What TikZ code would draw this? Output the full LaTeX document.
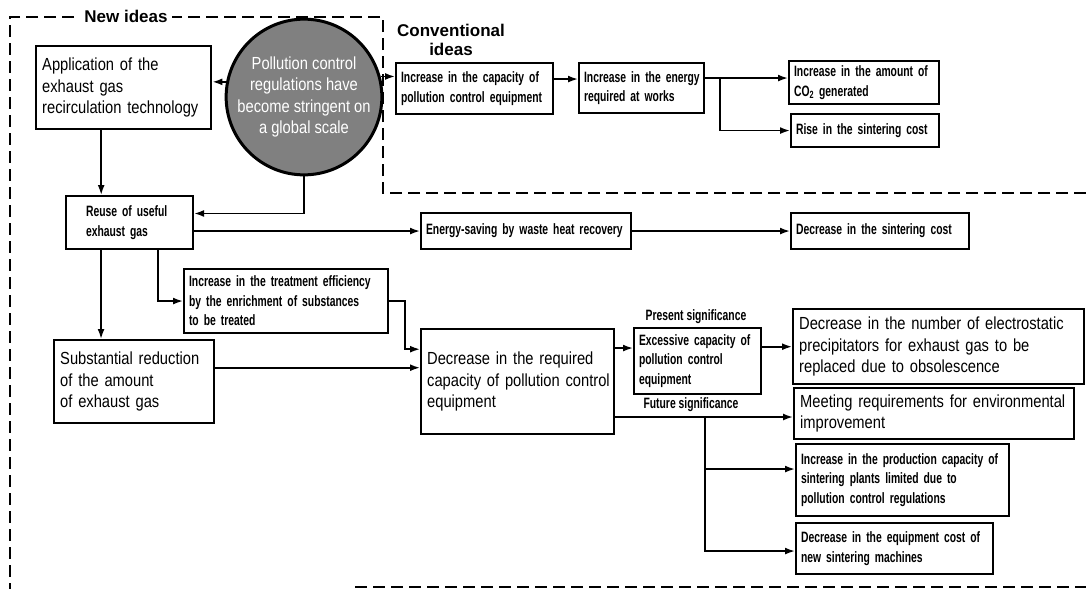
\documentclass[tikz,border=0pt]{standalone}
\usepackage{fontspec}
\setmainfont{Liberation Sans}
\newfontfamily\condb{Liberation Sans}[FakeStretch=0.69]
\newfontfamily\condr{Liberation Sans}[FakeStretch=0.84]
\usetikzlibrary{arrows.meta,calc}
\newcommand\smallf{\condb\bfseries\fontsize{15}{19.5}\selectfont}
\newcommand\largef{\condr\fontsize{17.5}{21.5}\selectfont}
\newcommand\labf{\bfseries\fontsize{17}{19}\selectfont}
\newcommand\lx[1]{\mbox{#1}}
\tikzset{
  sbox/.style={draw, line width=2.1pt, inner xsep=5pt, inner ysep=2pt, font=\smallf, align=left, anchor=north west},
  lbox/.style={draw, line width=2.4pt, inner xsep=6pt, inner ysep=2pt, font=\largef, align=left, anchor=north west},
  conn/.style={line width=1.7pt, -{Latex[length=10pt,width=7pt]}},
  plain/.style={line width=1.7pt},
  frame/.style={line width=1.8pt, dash pattern=on 12pt off 6pt},
  lab/.style={font=\smallf, inner sep=1pt}
}
\begin{document}
\begin{tikzpicture}[x=1pt,y=-1pt]
\useasboundingbox (0,0) rectangle (1086,589);
% dashed frames
\draw[frame] (1086,193) -- (383,193) -- (383,17) -- (10,17) -- (10,589);
\draw[frame] (355,587) -- (1086,587);
\node[font=\labf, fill=white, inner xsep=4pt, inner ysep=1pt] (newideas) at (126,16) {New ideas};
\node[font=\labf, align=center, inner sep=0pt] (convideas) at (451,40) {Conventional\\ideas};

% left column
\node[lbox, minimum width=175, minimum height=83, text width=163] (app) at (35,45)
  {\lx{Application of the}\\\lx{exhaust gas}\\\lx{recirculation technology}};
\node[circle, draw, line width=3pt, fill=black!50, minimum size=142, inner sep=0pt,
  font=\largef, text=white, align=center] (circ) at (304,97)
  {\lx{Pollution control}\\\lx{regulations have}\\\lx{become stringent on}\\\lx{a global scale}};
\node[sbox, minimum width=127, minimum height=53, text width=87, inner xsep=20pt] (reuse) at (65,195)
  {\lx{Reuse of useful}\\\lx{exhaust gas}};
\node[sbox, minimum width=204, minimum height=64, text width=194] (treat) at (183,268)
  {\lx{Increase in the treatment efficiency}\\\lx{by the enrichment of substances}\\\lx{to be treated}};
\node[lbox, minimum width=160, minimum height=83, text width=148] (subst) at (53,339)
  {\lx{Substantial reduction}\\\lx{of the amount}\\\lx{of exhaust gas}};

% conventional row
\node[sbox, minimum width=157, minimum height=51, text width=147] (conv1) at (395,62)
  {\lx{Increase in the capacity of}\\\lx{pollution control equipment}};
\node[sbox, minimum width=125, minimum height=50, text width=115] (conv2) at (578,62)
  {\lx{Increase in the energy}\\\lx{required at works}};
\node[sbox, minimum width=150, minimum height=43, text width=140] (co2) at (788,60)
  {\lx{Increase in the amount of}\\\lx{CO\textsubscript{2} generated}};
\node[sbox, minimum width=148, minimum height=33, text width=138] (rise) at (790,113)
  {\lx{Rise in the sintering cost}};

% energy row
\node[sbox, minimum width=210, minimum height=36, text width=200] (energy) at (420,212)
  {\lx{Energy-saving by waste heat recovery}};
\node[sbox, minimum width=178, minimum height=36, text width=168] (dcost) at (790,212)
  {\lx{Decrease in the sintering cost}};

% middle
\node[lbox, minimum width=193, minimum height=105, text width=181] (dreq) at (420,328)
  {\lx{Decrease in the required}\\\lx{capacity of pollution control}\\\lx{equipment}};
\node[sbox, minimum width=127, minimum height=66, text width=117] (exc) at (633,327)
  {\lx{Excessive capacity of}\\\lx{pollution control}\\\lx{equipment}};
\node[lab] (present) at (696,317) {Present significance};
\node[lab] (future) at (691,405) {Future significance};

% right column
\node[lbox, minimum width=291, minimum height=75, text width=279] (dnum) at (792,308)
  {\lx{Decrease in the number of electrostatic}\\\lx{precipitators for exhaust gas to be}\\\lx{replaced due to obsolescence}};
\node[lbox, minimum width=280, minimum height=51, text width=268] (meet) at (793,387)
  {\lx{Meeting requirements for environmental}\\\lx{improvement}};
\node[sbox, minimum width=213, minimum height=72, text width=203] (prod) at (795,443)
  {\lx{Increase in the production capacity of}\\\lx{sintering plants limited due to}\\\lx{pollution control regulations}};
\node[sbox, minimum width=197, minimum height=51, text width=187] (dequip) at (795,522)
  {\lx{Decrease in the equipment cost of}\\\lx{new sintering machines}};

% connectors
\draw[conn] (circ.169) -- (circ.169 -| app.east);
\draw[conn] (circ.15) -- (circ.15 -| conv1.west);
\draw[conn] (circ.south) |- (reuse.8);
\draw[conn] ([xshift=-22.5pt]app.south) -- ([xshift=-22.5pt]app.south |- reuse.north);
\draw[conn] (energy.west -| reuse.east) -- (energy.west);
\draw[conn] (energy.east) -- (dcost.west);
\draw[conn] ([xshift=28.5pt]reuse.south) |- (treat.west);
\draw[conn] ([xshift=-28.5pt]reuse.south) -- ([xshift=-28.5pt]reuse.south |- subst.north);
\coordinate (tj) at ($(treat.east)+(16,0)$);
\draw[conn] (treat.east) -- (tj) |- ([yshift=32.5pt]dreq.west);
\draw[conn] ([yshift=14pt]subst.east) -- ([yshift=14pt]subst.east -| dreq.west);
\draw[conn] ([yshift=13pt]exc.west -| dreq.east) -- ([yshift=13pt]exc.west);
\draw[conn] (exc.east |- dnum.west) -- (dnum.west);
\draw[conn] ([yshift=9.5pt]conv1.east) -- ([yshift=9.5pt]conv1.east -| conv2.west);
\coordinate (cj) at ($([yshift=10pt]conv2.east)+(15,0)$);
\draw[conn] ([yshift=10pt]conv2.east) -- ([yshift=10pt]conv2.east -| co2.west);
\draw[conn] (cj) |- (rise.west);
\coordinate (fj) at (705,417);
\draw[plain] (dreq.east |- fj) -- (fj);
\draw[conn] (fj) -- (fj -| meet.west);
\draw[conn] (fj) |- ([yshift=11pt]prod.west);
\draw[conn] (fj) |- ([yshift=-2.5pt]dequip.west);
\end{tikzpicture}
\end{document}
